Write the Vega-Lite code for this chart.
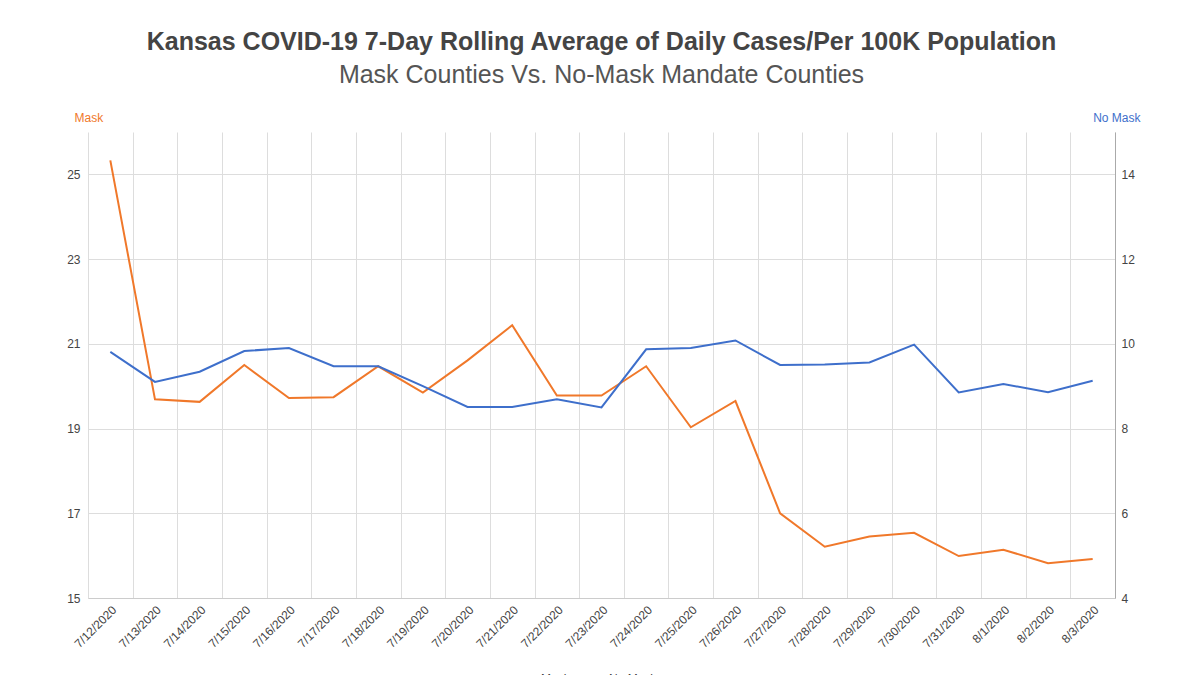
{
  "$schema": "https://vega.github.io/schema/vega-lite/v6.json",
  "autosize": {"type": "none"},
  "width": 1027,
  "height": 466,
  "padding": {"left": 88, "top": 132, "right": 85, "bottom": 77},
  "background": "white",
  "config": {
    "font": "Liberation Sans",
    "view": {"stroke": null}
  },
  "title": {
    "text": "Kansas COVID-19 7-Day Rolling Average of Daily Cases/Per 100K Population",
    "subtitle": "Mask Counties Vs. No-Mask Mandate Counties",
    "anchor": "middle",
    "frame": "group",
    "font": "Liberation Sans",
    "fontSize": 25,
    "fontWeight": "bold",
    "color": "#444444",
    "subtitleFont": "Liberation Sans",
    "subtitleFontSize": 25,
    "subtitleColor": "#555555",
    "subtitlePadding": 8,
    "offset": 23
  },
  "data": {
    "values": [
      {"date": "7/12/2020", "mask": 25.33, "nomask": 9.81},
      {"date": "7/13/2020", "mask": 19.69, "nomask": 9.10},
      {"date": "7/14/2020", "mask": 19.63, "nomask": 9.34},
      {"date": "7/15/2020", "mask": 20.50, "nomask": 9.83},
      {"date": "7/16/2020", "mask": 19.72, "nomask": 9.90},
      {"date": "7/17/2020", "mask": 19.74, "nomask": 9.47},
      {"date": "7/18/2020", "mask": 20.47, "nomask": 9.47},
      {"date": "7/19/2020", "mask": 19.85, "nomask": 9.00},
      {"date": "7/20/2020", "mask": 20.61, "nomask": 8.51},
      {"date": "7/21/2020", "mask": 21.44, "nomask": 8.51},
      {"date": "7/22/2020", "mask": 19.78, "nomask": 8.69},
      {"date": "7/23/2020", "mask": 19.78, "nomask": 8.50},
      {"date": "7/24/2020", "mask": 20.47, "nomask": 9.87},
      {"date": "7/25/2020", "mask": 19.03, "nomask": 9.90},
      {"date": "7/26/2020", "mask": 19.65, "nomask": 10.08},
      {"date": "7/27/2020", "mask": 17.00, "nomask": 9.50},
      {"date": "7/28/2020", "mask": 16.21, "nomask": 9.51},
      {"date": "7/29/2020", "mask": 16.45, "nomask": 9.56},
      {"date": "7/30/2020", "mask": 16.54, "nomask": 9.98},
      {"date": "7/31/2020", "mask": 15.99, "nomask": 8.85},
      {"date": "8/1/2020", "mask": 16.14, "nomask": 9.05},
      {"date": "8/2/2020", "mask": 15.82, "nomask": 8.86},
      {"date": "8/3/2020", "mask": 15.92, "nomask": 9.13}
    ]
  },
  "encoding": {
    "x": {
      "field": "date",
      "type": "ordinal",
      "sort": null,
      "scale": {"type": "band", "paddingInner": 0, "paddingOuter": 0},
      "bandPosition": 0.5,
      "axis": {
        "title": null,
        "tickBand": "extent",
        "grid": true,
        "gridColor": "#dddddd",
        "ticks": false,
        "domainColor": "#cccccc",
        "labelAngle": -45,
        "labelFontSize": 12,
        "labelColor": "#444444",
        "labelPadding": 6,
        "labelFont": "Liberation Sans"
      }
    }
  },
  "layer": [
    {
      "mark": {"type": "line", "strokeWidth": 2},
      "encoding": {
        "y": {
          "field": "mask",
          "type": "quantitative",
          "scale": {"domain": [15, 26], "nice": false, "zero": false},
          "axis": {
            "title": "Mask",
            "titleAngle": 0,
            "titleX": -14,
            "titleY": -15,
            "titleAlign": "left",
            "titleBaseline": "middle",
            "titleColor": "#f0782a",
            "titleFontSize": 12,
            "titleFontWeight": "normal",
            "values": [15, 17, 19, 21, 23, 25],
            "grid": true,
            "gridColor": "#dddddd",
            "domain": false,
            "ticks": false,
            "labelFontSize": 12,
            "labelColor": "#444444",
            "labelPadding": 8
          }
        },
        "color": {
          "datum": "Mask",
          "type": "nominal",
          "scale": {"domain": ["Mask", "No Mask"], "range": ["#f0782a", "#3e6fcb"]},
          "legend": {
            "title": null,
            "orient": "none",
            "direction": "horizontal",
            "legendX": 437,
            "legendY": 541,
            "labelFontSize": 12,
            "labelColor": "#444444",
            "symbolType": "stroke",
            "symbolStrokeWidth": 2,
            "columnPadding": 20
          }
        }
      }
    },
    {
      "mark": {"type": "line", "strokeWidth": 2},
      "encoding": {
        "y": {
          "field": "nomask",
          "type": "quantitative",
          "scale": {"domain": [4, 15], "nice": false, "zero": false},
          "axis": {
            "orient": "right",
            "title": "No Mask",
            "titleAngle": 0,
            "titleX": 25,
            "titleY": -15,
            "titleAlign": "right",
            "titleBaseline": "middle",
            "titleColor": "#3e6fcb",
            "titleFontSize": 12,
            "titleFontWeight": "normal",
            "values": [4, 6, 8, 10, 12, 14],
            "grid": false,
            "domainColor": "#aaaaaa",
            "ticks": false,
            "labelFontSize": 12,
            "labelColor": "#444444",
            "labelPadding": 6
          }
        },
        "color": {"datum": "No Mask", "type": "nominal"}
      }
    }
  ],
  "resolve": {"scale": {"y": "independent"}}
}
